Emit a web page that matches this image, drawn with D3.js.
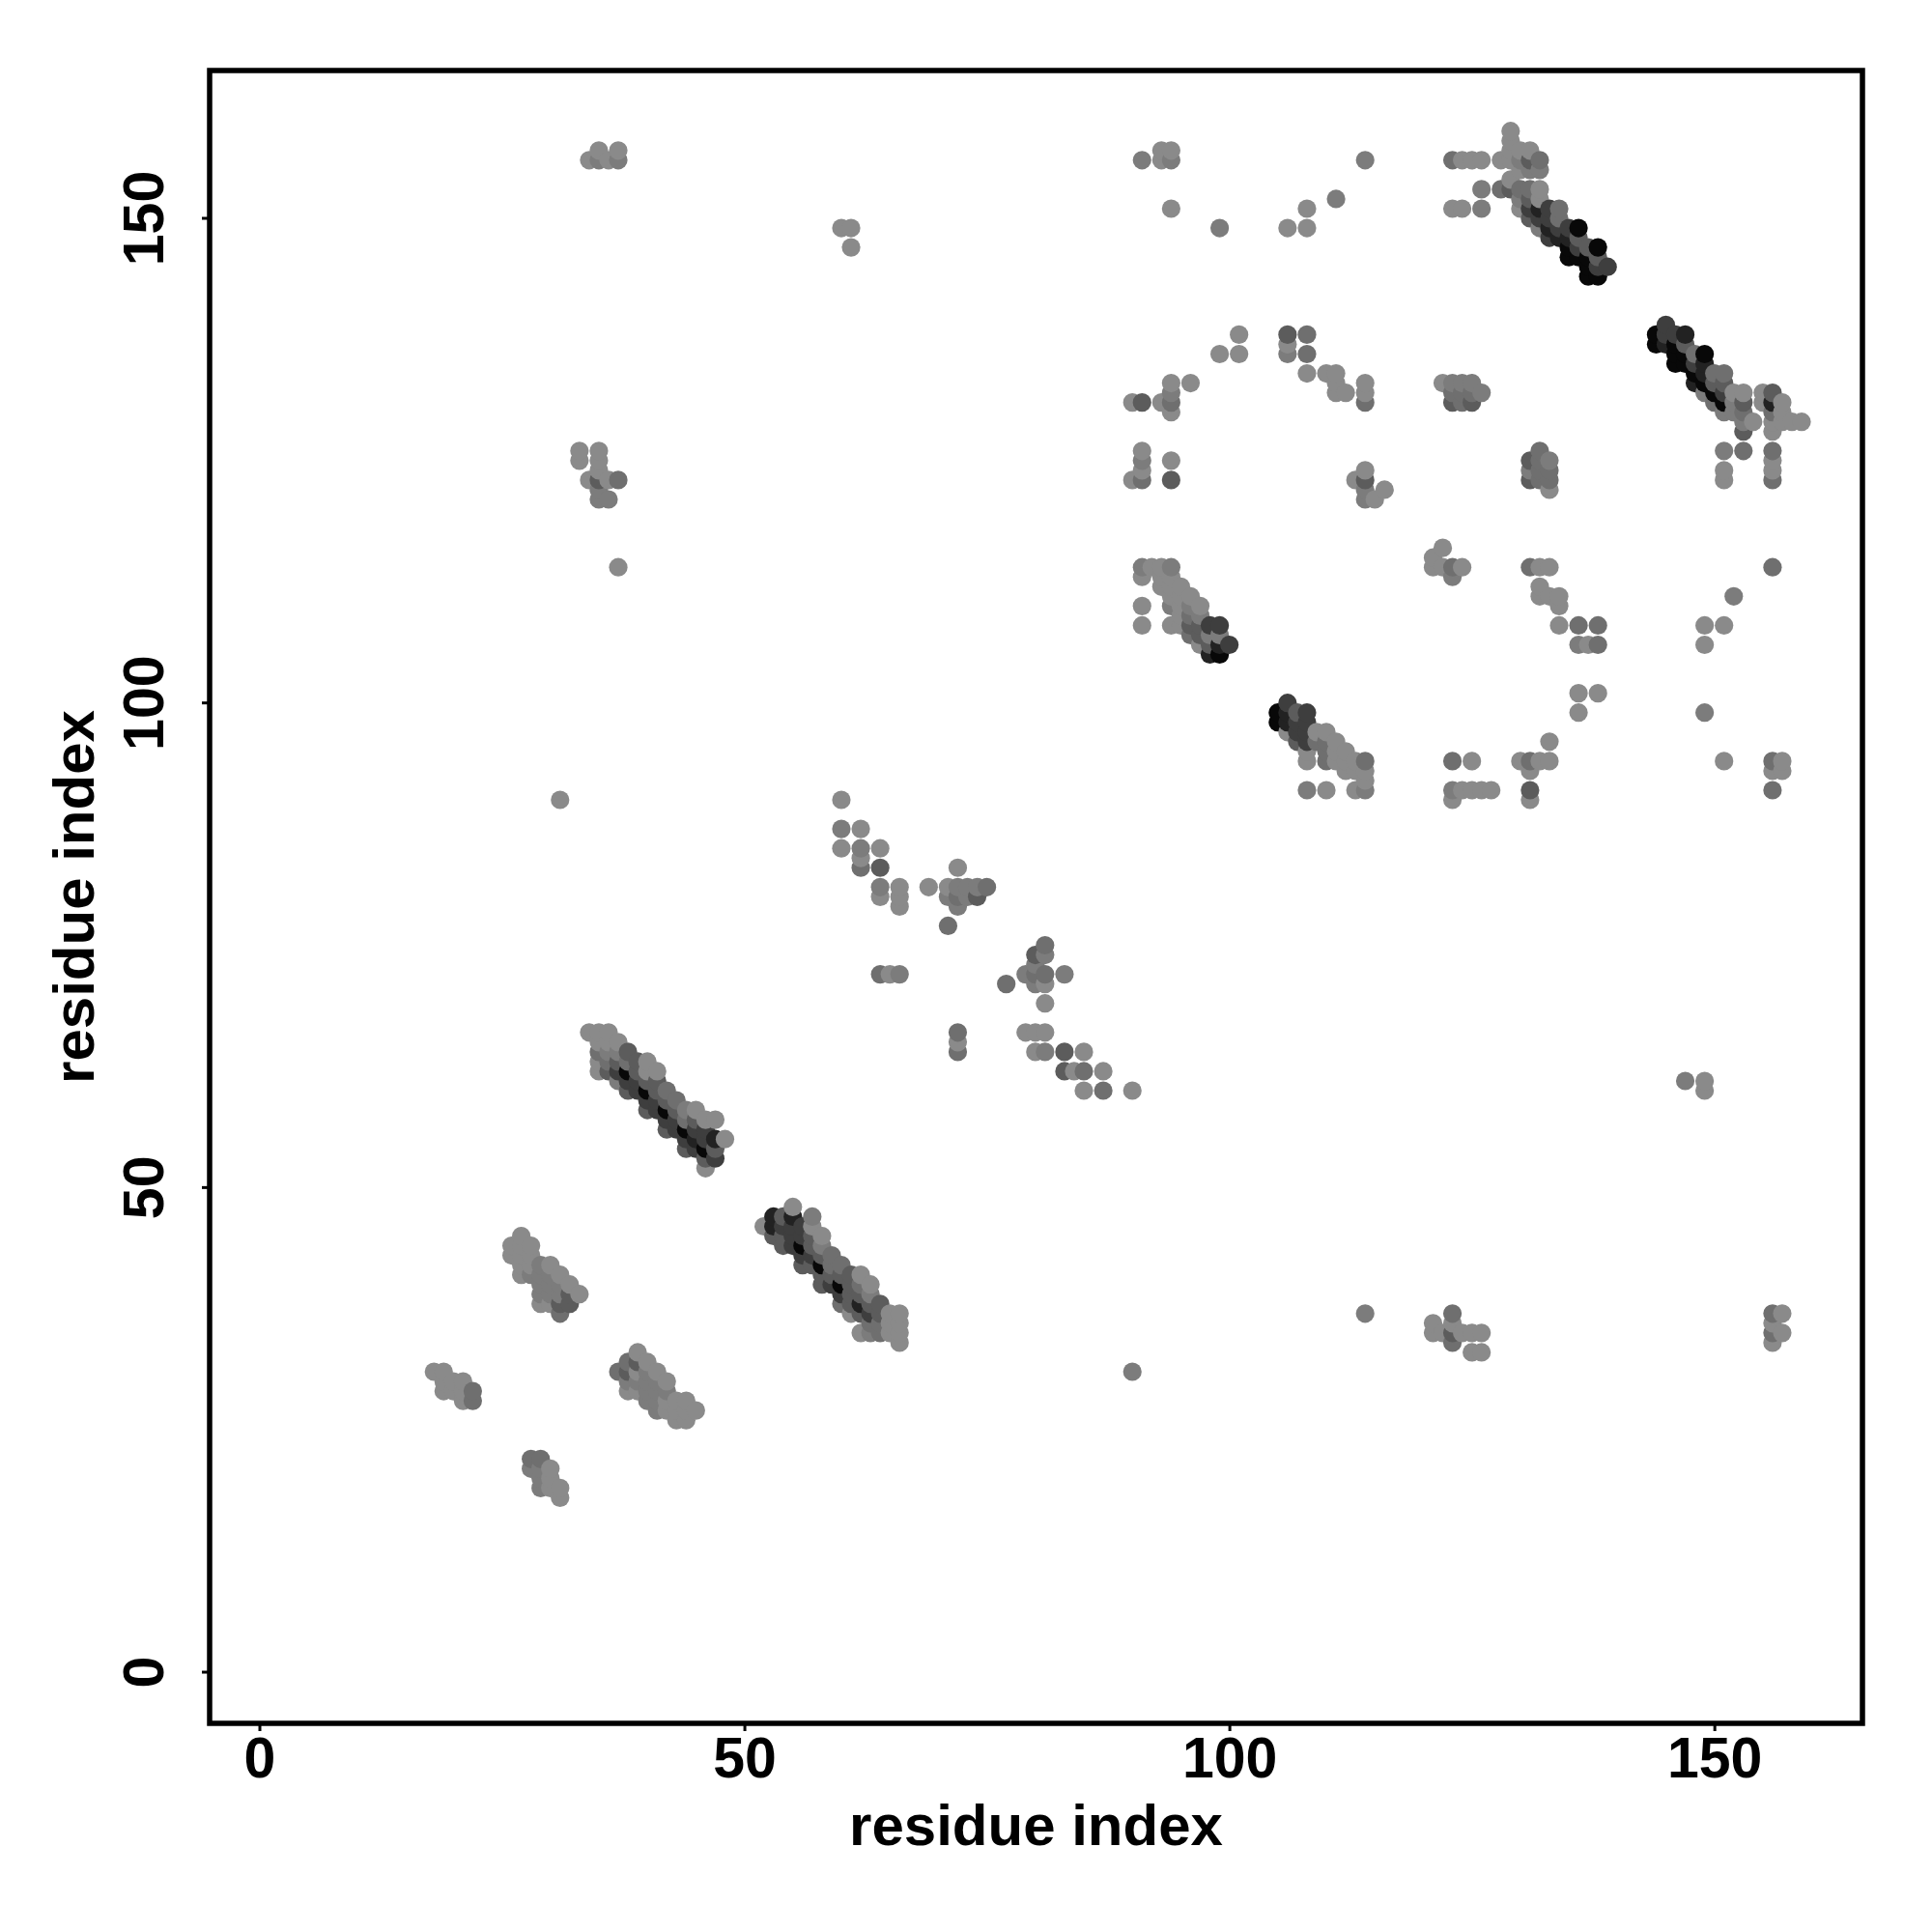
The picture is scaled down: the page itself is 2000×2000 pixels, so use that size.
<!DOCTYPE html>
<html><head><meta charset="utf-8"><style>html,body{margin:0;background:#fff}svg{display:block}</style>
<script src="https://cdnjs.cloudflare.com/ajax/libs/d3/7.9.0/d3.min.js"></script></head><body><svg id="c" width="2000" height="2000"></svg>
<script>
// [residue i, residue j, contact strength 0..6]
const clusterLowA=[[18,31,0],[19,31,0],[19,30,0],[19,29,0],[20,30,0],[20,29,0],[21,30,0],[21,29,0],[21,28,0],[22,29,2],[22,28,2],
[28,22,2],[29,22,2],[28,21,1],[29,21,1],[30,21,0],[29,20,1],[30,20,0],[29,19,1],[30,19,0],[31,19,0],[31,18,0]];
const clusterLowB=[[26,44,0],[26,43,0],[27,45,0],[27,44,0],[27,43,0],[27,42,0],[27,41,0],[28,44,0],[28,43,0],[28,42,0],[28,41,1],[29,42,1],[29,41,1],[29,40,1],[29,39,1],[29,38,0],
[30,42,0],[30,41,1],[30,40,1],[30,39,1],[30,38,0],[31,41,0],[31,40,1],[31,39,1],[31,38,3],[31,37,2],[32,40,0],[32,39,3],[32,38,3],[33,39,0]];
const clusterLowC=[[37,31,2],[38,32,2],[38,31,3],[38,30,1],[38,29,0],[39,33,0],[39,32,3],[39,31,0],[39,30,1],[39,29,0],[40,32,0],[40,31,1],[40,30,1],[40,29,1],[40,28,1],[41,31,0],[41,30,1],[41,29,1],[41,28,1],[41,27,1],[42,30,0],[42,29,1],[42,28,0],[42,27,0],[43,28,0],[43,27,0],[43,26,0],[44,28,0],[44,27,0],[44,26,0],[45,27,0]];
const sheetE=[[34,66,0],[35,66,0],[35,65,0],[35,64,2],[35,63,0],[35,62,0],[36,66,0],[36,65,0],[36,64,1],[36,63,2],[36,62,3],
[37,65,0],[37,64,1],[37,63,3],[37,62,4],[37,61,1],[38,64,3],[38,63,2],[38,62,6],[38,61,4],[38,60,3],[39,63,3],[39,62,3],[39,61,4],[39,60,4],
[40,63,0],[40,62,0],[40,61,3],[40,60,6],[40,59,4],[40,58,3],[41,62,0],[41,61,3],[41,60,3],[41,59,4],[41,58,4],[42,60,2],[42,59,3],[42,58,6],[42,57,4],[42,56,3],
[43,59,2],[43,58,3],[43,57,4],[43,56,4],[44,58,1],[44,57,2],[44,56,6],[44,55,4],[44,54,3],[45,58,0],[45,57,3],[45,56,4],[45,55,5],[45,54,4],
[46,57,0],[46,56,4],[46,55,4],[46,54,6],[46,53,3],[46,52,0],[47,57,0],[47,55,5],[47,54,3],[47,53,4],[48,55,0]];
const sheetF=[[52,46,0],[53,47,5],[53,46,5],[53,45,3],[54,47,3],[54,46,4],[54,45,3],[54,44,3],[55,48,0],[55,47,5],[55,46,4],[55,45,4],[55,44,4],
[56,46,4],[56,45,4],[56,44,6],[56,43,4],[56,42,3],[57,47,1],[57,46,0],[57,45,3],[57,44,3],[57,43,4],[57,42,3],[58,45,0],[58,44,1],[58,43,3],[58,42,6],[58,41,3],[58,40,3],
[59,43,2],[59,42,2],[59,41,3],[59,40,4],[60,42,2],[60,41,3],[60,40,6],[60,39,4],[60,38,2],[61,41,3],[61,40,3],[61,39,3],[61,38,3],[61,37,0],
[62,41,0],[62,40,2],[62,39,3],[62,38,5],[62,37,3],[62,35,0],[63,40,0],[63,39,1],[63,38,3],[63,37,4],[63,36,2],[63,35,1],[64,38,3],[64,37,3],[64,36,2],[64,35,2],[65,37,0],[65,36,0],[65,35,0],[66,37,0],[66,36,0],[66,35,0],[66,34,0]];
const clusterMid=[[60,90,0],[60,87,1],[62,87,0],[60,85,0],[62,85,1],[64,85,0],[62,84,0],[62,83,2],[64,83,3],[64,81,1],[66,81,0],[64,80,0],[66,80,0],[66,79,0],
[69,81,0],[71,81,0],[71,80,1],[72,83,0],[72,81,1],[72,80,2],[72,79,1],[73,80,1],[73,81,1],[74,81,1],[74,80,3],[75,81,2],[71,77,2],
[81,75,2],[80,74,3],[81,74,1],[80,73,1],[79,72,1],[80,72,2],[81,72,2],[83,72,1],[77,71,2],[80,71,1],[81,71,0],[81,69,0],[64,72,2],[65,72,0],[66,72,1],
[72,66,2],[72,65,0],[72,64,2],[79,66,0],[80,66,0],[81,66,0],[80,64,0],[81,64,1],[83,64,3],[85,64,0],[83,62,3],[84,62,0],[85,62,2],[87,62,0],[85,60,0],[87,60,2],[90,60,0]];
const sheetG=[[91,114,1],[91,113,0],[91,110,0],[91,108,0],[92,114,0],[93,114,0],[93,113,0],[93,112,0],[94,114,1],[94,113,0],[94,112,0],[94,111,0],[94,110,1],[94,108,0],
[95,112,0],[95,111,0],[95,110,0],[95,109,0],[95,108,0],[96,111,0],[96,110,1],[96,109,2],[96,108,3],[96,107,2],[97,110,0],[97,109,1],[97,108,3],[97,107,3],[97,106,0],
[98,108,4],[98,107,1],[98,106,3],[98,105,5],[99,108,4],[99,107,1],[99,106,5],[99,105,6],[100,106,4]];
const sheetH=[[105,99,6],[105,98,6],[106,100,4],[106,99,5],[106,98,5],[106,97,0],[107,99,3],[107,98,4],[107,97,4],[107,96,3],[108,99,4],[108,98,4],[108,97,4],[108,96,4],[108,95,0],[108,94,0],[108,91,1],
[109,97,0],[109,96,2],[110,97,0],[110,96,2],[110,95,2],[110,94,2],[110,91,0],[111,96,0],[111,95,0],[111,94,0],[112,95,0],[112,94,0],[112,93,0],[113,94,0],[113,93,0],[113,91,0],[114,94,2],[114,93,0],[114,92,0],[114,91,1]];
const clusterRingLow=[[123,94,2],[125,94,0],[123,91,1],[124,91,0],[125,91,0],[126,91,0],[127,91,0],[123,90,0],[122,116,0],[121,115,0],[121,114,0],[122,114,0],[123,114,2],[123,113,1],[124,114,0],
[130,94,0],[131,94,2],[132,94,0],[133,94,0],[133,96,0],[131,93,0],[131,91,3],[131,90,0],[136,101,0],[138,101,0],[136,99,0],
[122,133,0],[123,133,1],[124,133,1],[125,133,1],[126,132,1],[123,132,2],[124,132,2],[125,132,2],[123,131,3],[124,131,2],[125,131,3],
[132,126,2],[131,125,3],[133,125,1],[132,125,2],[131,124,1],[132,124,2],[133,124,2],[131,123,3],[132,123,2],[133,123,2],[133,122,0],
[131,114,2],[132,114,0],[133,114,0],[132,112,0],[132,111,0],[133,111,0],[134,111,0],[134,110,0],[134,108,0],[136,108,2],[138,108,2],[136,106,1],[137,106,0],[138,106,2]];
const sheetI=[[144,138,6],[144,137,6],[145,139,4],[145,138,4],[145,137,5],[146,138,4],[146,137,6],[146,136,6],[146,135,6],[147,138,5],[147,137,3],[147,136,6],[147,135,6],
[148,136,2],[148,135,4],[148,134,6],[148,133,5],[149,136,6],[149,135,5],[149,134,5],[149,133,6],[149,132,1],[150,134,2],[150,133,3],[150,132,6],[150,131,2],[151,134,2],[151,133,3],[151,132,4],[151,131,6],[151,130,1],
[152,132,0],[152,131,1],[152,130,1],[153,132,0],[153,131,3],[153,130,2],[153,129,1],[153,128,3],[154,129,0],[155,132,0],[155,131,0],[156,132,3],[156,131,5],[156,130,2],[156,129,0],[156,128,0],[157,131,0],[157,130,0],[157,129,0],[158,129,0],[159,129,0],
[151,126,1],[153,126,2],[151,124,0],[151,123,0],[156,126,2],[156,125,0],[156,124,0],[156,123,2]];
const sheetJ=[[123,156,2],[124,156,0],[125,156,0],[126,156,0],[128,156,0],[129,159,0],[129,158,0],[129,157,0],[129,156,0],[130,157,0],[130,156,1],[131,157,0],[131,156,3],[132,156,2],[130,155,0],[131,155,1],[132,155,1],
[126,153,1],[128,153,2],[129,154,0],[129,153,3],[130,153,2],[130,152,1],[130,151,0],[131,153,2],[131,152,3],[131,151,4],[131,150,3],[132,153,0],[132,152,0],[132,151,5],[132,150,4],[132,149,1],
[133,151,4],[133,150,4],[133,149,5],[133,148,4],[134,151,2],[134,150,2],[134,149,4],[134,148,5],[135,149,4],[135,148,5],[135,147,6],[135,146,6],[136,149,6],[136,148,3],[136,147,4],[136,146,6],
[137,147,3],[137,146,6],[137,145,6],[137,144,6],[138,147,6],[138,146,3],[138,145,4],[138,144,6],[139,145,4],[123,151,0],[124,151,0],[126,151,1]];
const clusterRingTop=[[101,138,0],[99,136,0],[101,136,0],[106,138,3],[106,137,0],[106,136,1],[108,138,2],[108,136,2],[108,134,0],[110,134,0],[111,134,0],[111,133,0],[111,132,0],[112,132,0],[114,133,0],[114,132,0],[114,131,2],
[90,131,0],[91,131,3],[93,131,0],[94,133,0],[94,132,1],[94,131,2],[94,130,0],[96,133,0],[91,126,0],[91,125,1],[91,124,0],[91,123,2],[90,123,0],[94,125,0],[94,123,3],
[114,124,0],[114,123,3],[113,123,0],[114,122,1],[114,121,1],[115,121,0],[116,122,0]];
const scattered=[[34,156,0],[35,156,1],[36,156,0],[37,156,1],[35,157,0],[37,157,0],[60,149,0],[61,149,0],[61,147,0],
[33,126,0],[33,125,0],[35,126,0],[35,125,0],[35,124,0],[34,123,0],[35,123,3],[36,123,0],[37,123,2],[35,122,1],[35,121,1],[36,121,1],[37,114,0],[31,90,0],
[91,156,1],[93,156,0],[94,156,1],[93,157,0],[94,157,0],[94,151,0],[99,149,1],[106,149,0],[108,149,0],[108,151,0],[111,152,1],[114,156,1],
[149,108,0],[151,108,0],[149,106,0],[152,111,1],[156,114,2],[149,99,1],[151,94,0],[156,94,2],[157,94,0],[156,93,0],[157,93,0],[156,91,2],
[147,61,1],[149,61,0],[149,60,0],[90,31,1],[114,37,1],[121,36,0],[121,35,0],[122,35,0],[123,37,2],[123,36,0],[123,35,3],[123,34,2],[124,35,0],[125,35,0],[126,35,0],[125,33,0],[126,33,0],
[156,37,2],[157,37,0],[156,36,0],[156,35,2],[157,35,0],[156,34,0]];
const axisTicks=[0,50,100,150];
const axisTitle="residue index";

const contacts=[clusterLowA,clusterLowB,clusterLowC,sheetE,sheetF,clusterMid,sheetG,sheetH,clusterRingLow,sheetI,sheetJ,clusterRingTop,scattered].flat()
  .sort((a,b)=>a[0]-b[0]||a[1]-b[1]);

const L=217,R=1928,T=73,B=1784;
const x=d3.scaleLinear().domain([-5.13,165.27]).range([L,R]);
const y=d3.scaleLinear().domain([-5.28,165.25]).range([B,T]);
const shade=d3.scaleLinear().domain([0,1,2,3,4,5,6]).range([138,124,111,92,62,34,8]);
const svg=d3.select("#c");
const font="'Liberation Sans',Arial,sans-serif";

svg.append("g").selectAll("circle").data(contacts).join("circle")
  .attr("cx",d=>x(d[0])).attr("cy",d=>y(d[1])).attr("r",9.6)
  .attr("fill",d=>{const v=Math.round(shade(d[2]));return d3.rgb(v,v,v)});

svg.append("rect").attr("x",L).attr("y",T).attr("width",R-L).attr("height",B-T)
  .attr("fill","none").attr("stroke","#000").attr("stroke-width",5.5);

const gx=svg.append("g").attr("transform",`translate(0,${B})`)
  .call(d3.axisBottom(x).tickValues(axisTicks).tickSize(8).tickPadding(6));
const gy=svg.append("g").attr("transform",`translate(${L},0)`)
  .call(d3.axisLeft(y).tickValues(axisTicks).tickSize(8));
[gx,gy].forEach(g=>{g.select(".domain").remove();g.selectAll("line").attr("stroke","#000").attr("stroke-width",3);
  g.selectAll("text").attr("font-family",font).attr("font-weight","bold").attr("font-size",59).attr("fill","#000");});
gy.selectAll("text").attr("transform",null).attr("text-anchor","middle").attr("dy",0).attr("x",0)
  .attr("transform",d=>`translate(-48,${y(d)}) rotate(-90)`).attr("y",0);
gy.selectAll(".tick").attr("transform","translate(0,0)");
gy.selectAll(".tick line").attr("y1",d=>y(d)).attr("y2",d=>y(d));

svg.append("text").attr("x",(L+R)/2).attr("y",1910).attr("text-anchor","middle")
  .attr("font-family",font).attr("font-weight","bold").attr("font-size",60).text(axisTitle);
svg.append("text").attr("transform",`translate(97,${(T+B)/2}) rotate(-90)`).attr("text-anchor","middle")
  .attr("font-family",font).attr("font-weight","bold").attr("font-size",60).text(axisTitle);
</script></body></html>
